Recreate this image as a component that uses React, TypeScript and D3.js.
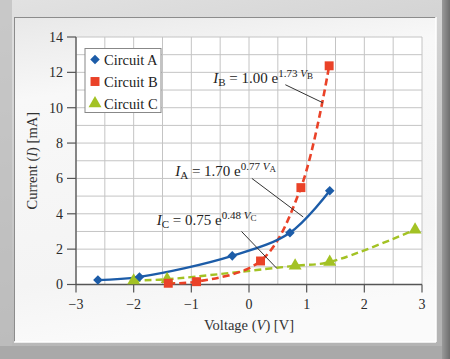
import React from "react";
import * as d3 from "d3";

const W = 450;
const H = 359;

// Data
const circuitA_V = [-2.62, -1.9, -0.29, 0.71, 1.4];
const circuitA_I = [0.25, 0.43, 1.62, 2.93, 5.3];
const circuitB_V = [-1.4, -0.91, 0.2, 0.9, 1.39];
const circuitB_I = [0.07, 0.16, 1.33, 5.48, 12.37];
const circuitC_V = [-2.0, -1.42, 0.8, 1.4, 2.88];
const circuitC_I = [0.22, 0.3, 1.06, 1.27, 3.1];

const xTicks = [-3, -2, -1, 0, 1, 2, 3];
const yTicks = [0, 2, 4, 6, 8, 10, 12, 14];
const xGrid = d3.range(-3, 3.01, 0.5);
const yGrid = d3.range(0, 14.01, 1);

const legendNames = ["Circuit A", "Circuit B", "Circuit C"];

const BLUE = "#1c5ca8";
const RED = "#ea4228";
const GREEN = "#a3c224";

const FONT = "'Liberation Serif', 'Times New Roman', serif";

// annotations: label anchor (data coords) and leader line (data coords)
const annB = { sub: "B", coef: "1.00", exp: "1.73", lx: -0.62, ly: 11.4, from: [0.63, 11.3], to: [1.28, 10.28] };
const annA = { sub: "A", coef: "1.70", exp: "0.77", lx: -1.28, ly: 6.15, from: [0.05, 6.0], to: [0.94, 3.82] };
const annC = { sub: "C", coef: "0.75", exp: "0.48", lx: -1.6, ly: 3.37, from: [-0.13, 3.0], to: [0.48, 0.92] };

export default function App() {
  const left = 76, right = 422, top = 37, bottom = 284.5;
  const x = d3.scaleLinear().domain([-3, 3]).range([left, right]);
  const y = d3.scaleLinear().domain([0, 14]).range([bottom, top]);

  const line = d3
    .line<[number, number]>()
    .x((d) => x(d[0]))
    .y((d) => y(d[1]))
    .curve(d3.curveCatmullRom.alpha(0.5));

  const ptsA = circuitA_V.map((v, i) => [v, circuitA_I[i]] as [number, number]);
  const ptsB = circuitB_V.map((v, i) => [v, circuitB_I[i]] as [number, number]);
  const ptsC = circuitC_V.map((v, i) => [v, circuitC_I[i]] as [number, number]);

  const diamond = d3.symbol().type(d3.symbolDiamond2).size(58)() as string;
  const square = d3.symbol().type(d3.symbolSquare).size(80)() as string;
  const triangle = d3.symbol().type(d3.symbolTriangle).size(72)() as string;

  const renderAnn = (a: typeof annA) => (
    <g key={a.sub}>
      <line
        x1={x(a.from[0])}
        y1={y(a.from[1])}
        x2={x(a.to[0])}
        y2={y(a.to[1])}
        stroke="#333"
        strokeWidth={1}
      />
      <text x={x(a.lx)} y={y(a.ly)} fontFamily={FONT} fontSize={15} fill="#222">
        <tspan fontStyle="italic">I</tspan>
        <tspan fontSize={11} dy={3}>{a.sub}</tspan>
        <tspan dy={-3}>{` = ${a.coef} e`}</tspan>
        <tspan fontSize={11} dy={-6}>{a.exp + " "}</tspan>
        <tspan fontSize={11} fontStyle="italic">V</tspan>
        <tspan fontSize={9} dy={2}>{a.sub}</tspan>
      </text>
    </g>
  );

  return (
    <svg width={W} height={H} style={{ position: "absolute", left: 0, top: 0 }}>
      <defs>
        <linearGradient id="frame" x1="0" y1="0" x2="0.3" y2="1">
          <stop offset="0" stopColor="#e2e2e2" />
          <stop offset="1" stopColor="#b4b4b4" />
        </linearGradient>
        <linearGradient id="panel" x1="0" y1="0" x2="0.2" y2="1">
          <stop offset="0" stopColor="#e8e8e8" />
          <stop offset="0.25" stopColor="#f8f8f8" />
          <stop offset="0.8" stopColor="#f4f4f4" />
          <stop offset="1" stopColor="#fafafa" />
        </linearGradient>
        <linearGradient id="rightbar" x1="0" y1="0" x2="1" y2="0">
          <stop offset="0" stopColor="#9a9a9a" />
          <stop offset="1" stopColor="#6e6e6e" />
        </linearGradient>
      </defs>
      {/* frame */}
      <rect x={0} y={0} width={W} height={H} fill="url(#frame)" />
      <rect x={0} y={0} width={12} height={H} fill="#bdbdbd" opacity={0.7} />
      <rect x={0} y={346} width={W} height={13} fill="#a9a9a9" />
      <rect x={442} y={0} width={8} height={H} fill="url(#rightbar)" />
      <rect x={14} y={17} width={422} height={325} fill="url(#panel)" />
      <line x1={14} y1={17.5} x2={436} y2={17.5} stroke="#8c8c8c" strokeWidth={1} />
      <line x1={14.5} y1={17} x2={14.5} y2={342} stroke="#8c8c8c" strokeWidth={1} />
      <line x1={14} y1={342} x2={436} y2={342} stroke="#ffffff" strokeWidth={1.5} />
      <line x1={436} y1={17} x2={436} y2={342} stroke="#ffffff" strokeWidth={1.5} />

      {/* plot area */}
      <rect x={left} y={top} width={right - left} height={bottom - top} fill="#ffffff" />
      {xGrid.map((v) => (
        <line key={"gx" + v} x1={x(v)} x2={x(v)} y1={top} y2={bottom} stroke="#c4c4c4" strokeWidth={1} />
      ))}
      {yGrid.map((v) => (
        <line key={"gy" + v} x1={left} x2={right} y1={y(v)} y2={y(v)} stroke="#c4c4c4" strokeWidth={1} />
      ))}

      {/* axes */}
      <line x1={left} x2={left} y1={top} y2={bottom} stroke="#555" strokeWidth={1.3} />
      <line x1={left} x2={right} y1={bottom} y2={bottom} stroke="#555" strokeWidth={1.3} />
      {yTicks.map((v) => (
        <g key={"yt" + v}>
          <line x1={left - 9} x2={left} y1={y(v)} y2={y(v)} stroke="#555" strokeWidth={1.2} />
          <text
            x={left - 13}
            y={y(v)}
            dy="0.35em"
            textAnchor="end"
            fontFamily={FONT}
            fontSize={14}
            fill="#2a2a2a"
          >
            {v}
          </text>
        </g>
      ))}
      {xTicks.map((v) => (
        <g key={"xt" + v}>
          <line x1={x(v)} x2={x(v)} y1={bottom} y2={bottom + 8} stroke="#555" strokeWidth={1.2} />
          <text
            x={x(v)}
            y={bottom + 24}
            textAnchor="middle"
            fontFamily={FONT}
            fontSize={14}
            fill="#2a2a2a"
          >
            {v < 0 ? "\u2212" + Math.abs(v) : String(v)}
          </text>
        </g>
      ))}

      {/* axis titles */}
      <text
        x={x(0)}
        y={330}
        textAnchor="middle"
        fontFamily={FONT}
        fontSize={14.5}
        fill="#333"
      >
        Voltage (<tspan fontStyle="italic">V</tspan>) [V]
      </text>
      <text
        transform={`translate(37, ${(top + bottom) / 2}) rotate(-90)`}
        textAnchor="middle"
        fontFamily={FONT}
        fontSize={14.5}
        fill="#333"
      >
        Current (<tspan fontStyle="italic">I</tspan>) [mA]
      </text>

      {/* curves */}
      <path d={line(ptsC) || ""} fill="none" stroke={GREEN} strokeWidth={2.4} strokeDasharray="7,4" />
      <path d={line(ptsB) || ""} fill="none" stroke={RED} strokeWidth={2.6} strokeDasharray="7,4" />
      <path d={line(ptsA) || ""} fill="none" stroke={BLUE} strokeWidth={2.4} />

      {/* markers */}
      {ptsC.map((p, i) => (
        <path key={"c" + i} d={triangle} transform={`translate(${x(p[0])},${y(p[1])})`} fill={GREEN} />
      ))}
      {ptsB.map((p, i) => (
        <path key={"b" + i} d={square} transform={`translate(${x(p[0])},${y(p[1])})`} fill={RED} />
      ))}
      {ptsA.map((p, i) => (
        <path key={"a" + i} d={diamond} transform={`translate(${x(p[0])},${y(p[1])})`} fill={BLUE} />
      ))}

      {/* annotations */}
      {[annB, annA, annC].map(renderAnn)}

      {/* legend */}
      <g>
        <rect x={85} y={48.5} width={76} height={64} fill="#ffffff" stroke="#888" strokeWidth={1} />
        {legendNames.map((name, i) => {
          const cy = 59.5 + i * 22;
          const sym = i === 0 ? diamond : i === 1 ? square : triangle;
          const col = i === 0 ? BLUE : i === 1 ? RED : GREEN;
          return (
            <g key={name}>
              <path d={sym} transform={`translate(95,${cy})`} fill={col} />
              <text x={104} y={cy} dy="0.35em" fontFamily={FONT} fontSize={14.5} fill="#222">
                {name}
              </text>
            </g>
          );
        })}
      </g>
    </svg>
  );
}
